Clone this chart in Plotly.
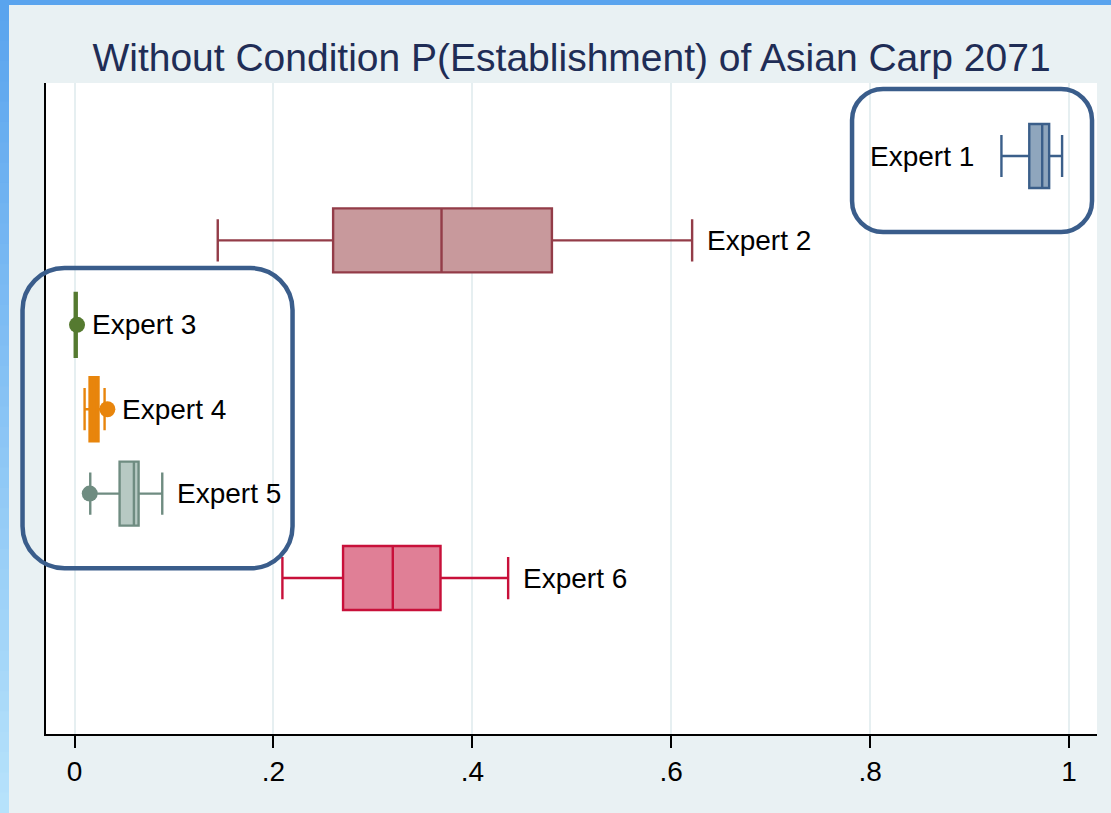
import plotly.graph_objects as go

# ---- data ----
experts = ["Expert 1", "Expert 2", "Expert 3", "Expert 4", "Expert 5", "Expert 6"]
positions = [1, 2, 3, 4, 5, 6]
lowerfence = [0.932, 0.144, 0.0002, 0.0101, 0.0158, 0.209]
q1 = [0.960, 0.260, 0.0002, 0.0151, 0.0453, 0.270]
median = [0.973, 0.369, 0.0012, 0.0196, 0.0597, 0.320]
q3 = [0.980, 0.480, 0.0022, 0.0241, 0.0644, 0.368]
upperfence = [0.993, 0.621, 0.0022, 0.0302, 0.0882, 0.436]
outliers = [[], [], [0.0025], [0.0330], [0.0153], []]

line_colors = ["#3b5f8a", "#933c48", "#557a30", "#e8850c", "#6f8c81", "#c8103a"]
fill_colors = ["#8fa6bd", "#c8999c", "#557a30", "#e8850c", "#b7c9c3", "#e07f96"]

x_ticks = [0, 0.2, 0.4, 0.6, 0.8, 1.0]
x_tick_labels = ["0", ".2", ".4", ".6", ".8", "1"]

title = "Without Condition P(Establishment) of Asian Carp 2071"

# highlight frames (data coords): x0, x1, y0, y1
highlight_frames = [(0.7818, 1.0231, 0.206, 1.900), (-0.0523, 0.2192, 2.327, 5.885)]

W, H = 1111, 813
ML, MR, MT, MB = 46, 14, 83, 79
x_range = [-0.0287, 1.0281]
y_range = [7.848, 0.135]

font_family = "Liberation Sans, Arial, sans-serif"

fig = go.Figure()

for i, name in enumerate(experts):
    fig.add_trace(go.Box(
        y=[positions[i]], q1=[q1[i]], median=[median[i]], q3=[q3[i]],
        lowerfence=[lowerfence[i]], upperfence=[upperfence[i]],
        orientation="h", name=name, width=0.758, whiskerwidth=0.66,
        line=dict(color=line_colors[i], width=2.4), fillcolor=fill_colors[i],
        boxpoints=False, showlegend=False, hoverinfo="x",
    ))
    if outliers[i]:
        fig.add_trace(go.Scatter(
            x=outliers[i], y=[positions[i]] * len(outliers[i]), mode="markers",
            marker=dict(color=line_colors[i], size=16, line=dict(width=0)),
            showlegend=False, hoverinfo="x",
        ))

# labels
for i, name in enumerate(experts):
    if i == 0:
        fig.add_annotation(x=lowerfence[i], y=positions[i], text=name, showarrow=False,
                           xanchor="right", yanchor="middle", xshift=-25,
                           font=dict(family=font_family, size=28, color="black"))
    else:
        xr = max([upperfence[i]] + outliers[i])
        fig.add_annotation(x=xr, y=positions[i], text=name, showarrow=False,
                           xanchor="left", yanchor="middle", xshift=13,
                           font=dict(family=font_family, size=28, color="black"))

# rounded highlight frames, drawn in paper coords (so they are not clipped)
pw = W - ML - MR
ph = H - MT - MB

def data2paper_x(x):
    return (x - x_range[0]) / (x_range[1] - x_range[0])

def data2paper_y(y):
    return (y_range[0] - y) / (y_range[0] - y_range[1])

def rounded_path(x0, x1, y0, y1, r_px):
    X0, X1 = data2paper_x(x0), data2paper_x(x1)
    Yt, Yb = data2paper_y(y0), data2paper_y(y1)   # top (larger paper y), bottom
    rx = r_px / pw
    ry = r_px / ph
    k = 0.5523
    p = [f"M {X0 + rx},{Yt}", f"L {X1 - rx},{Yt}",
         f"C {X1 - rx + k * rx},{Yt} {X1},{Yt - ry + k * ry} {X1},{Yt - ry}",
         f"L {X1},{Yb + ry}",
         f"C {X1},{Yb + ry - k * ry} {X1 - rx + k * rx},{Yb} {X1 - rx},{Yb}",
         f"L {X0 + rx},{Yb}",
         f"C {X0 + rx - k * rx},{Yb} {X0},{Yb + ry - k * ry} {X0},{Yb + ry}",
         f"L {X0},{Yt - ry}",
         f"C {X0},{Yt - ry + k * ry} {X0 + rx - k * rx},{Yt} {X0 + rx},{Yt}", "Z"]
    return " ".join(p)

for (fx0, fx1, fy0, fy1), r in zip(highlight_frames, [31, 42]):
    fig.add_shape(type="path", path=rounded_path(fx0, fx1, fy0, fy1, r),
                  xref="paper", yref="paper", line=dict(color="#3a5d8b", width=4.5),
                  fillcolor="rgba(0,0,0,0)", layer="above")

# outer blue border (top bar + left gradient bar), in paper coords
def px2paper_x(px):
    return (px - ML) / pw

def px2paper_y(py):
    return 1 - (py - MT) / ph

fig.add_shape(type="rect", xref="paper", yref="paper",
              x0=px2paper_x(0), x1=px2paper_x(W), y0=px2paper_y(5), y1=px2paper_y(0),
              fillcolor="#5aa4ee", line=dict(width=0), layer="below")
n = 40
c0 = (90, 164, 238)
c1 = (182, 226, 251)
for j in range(n):
    t = j / (n - 1)
    c = tuple(int(round(a + (b - a) * t)) for a, b in zip(c0, c1))
    ya = j * H / n
    yb = (j + 1) * H / n + 1
    fig.add_shape(type="rect", xref="paper", yref="paper",
                  x0=px2paper_x(0), x1=px2paper_x(9), y0=px2paper_y(yb), y1=px2paper_y(ya),
                  fillcolor=f"rgb{c}", line=dict(width=0), layer="below")

fig.update_layout(
    width=W, height=H,
    margin=dict(l=ML, r=MR, t=MT, b=MB, pad=0),
    paper_bgcolor="#e9f1f3", plot_bgcolor="white",
    boxmode="overlay",
    title=dict(text=title, x=0.5, xref="paper", xanchor="center",
               y=1 - 57 / H, yref="container", yanchor="middle",
               font=dict(family=font_family, size=39, color="#1f2d56")),
    font=dict(family=font_family),
)
fig.update_xaxes(range=x_range, tickvals=x_ticks, ticktext=x_tick_labels,
                 showgrid=True, gridcolor="#e6eff1", gridwidth=2,
                 zeroline=False, showline=True, linecolor="black", linewidth=1.5,
                 ticks="outside", ticklen=12, tickcolor="black", tickwidth=1.5,
                 tickfont=dict(family=font_family, size=28, color="black"))
fig.update_yaxes(range=y_range, showgrid=False, zeroline=False, showticklabels=False,
                 showline=True, linecolor="black", linewidth=1.5, ticks="")

fig.write_html("out.html", config={"displayModeBar": False},
               post_script="document.body.style.margin='0';document.body.style.padding='0';"
                           "document.documentElement.style.overflow='hidden';")
